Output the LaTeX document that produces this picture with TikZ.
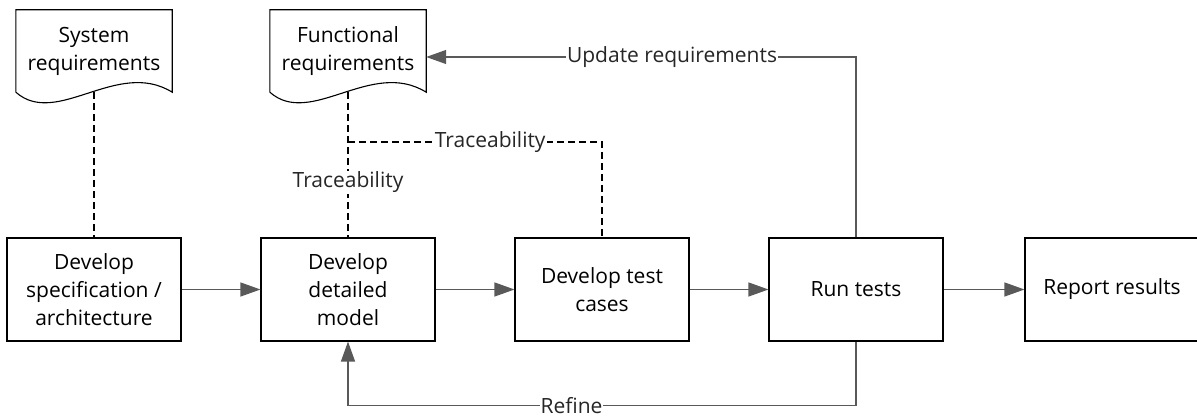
\documentclass[tikz,border=0pt]{standalone}
\usepackage{fontspec}
\setmainfont{Open Sans}
\usetikzlibrary{arrows.meta}
\newcommand\reqshape[1]{%
\draw [line width=1.1pt] (#1.south west) -- (#1.north west) -- (#1.north east) -- (#1.south east)
  .. controls +(-55pt,34pt) and +(41pt,-36pt) .. (#1.south west);}
\begin{document}
\begin{tikzpicture}[x=1pt,y=1pt,font=\fontsize{21}{28}\selectfont,
  box/.style={draw,line width=1.1pt,minimum width=174pt,minimum height=103pt,align=center},
  req/.style={minimum width=156pt,minimum height=82pt,align=center},
  flow/.style={draw=black!65,line width=1.2pt,-{Triangle[length=20pt,width=14pt]}},
  trace/.style={line width=1.1pt,dash pattern=on 7pt off 4pt},
  tag/.style={fill=white,inner sep=1pt,text=black!85}]
\useasboundingbox (0,0) rectangle (1197,419);
\node [box] (spec) at (94,129.5) {Develop\\specification /\\architecture};
\node [box] (model) at (348,129.5) {Develop\\detailed\\model};
\node [box] (cases) at (602,129.5) {Develop test\\cases};
\node [box] (runtests) at (856,129.5) {Run tests};
\node [box] (report) at (1112,129.5) {Report results};
\node [req] (sysreq) at (94,368) {System\\requirements};
\node [req] (funcreq) at (348,368) {Functional\\requirements};
\reqshape{sysreq}
\reqshape{funcreq}
\coordinate (split) at (348,277);
\draw [trace] (sysreq.south) -- (spec.north);
\draw [trace] (funcreq.south) -- node [tag,pos=.62] {Traceability} (model.north);
\draw [trace] (split) -| node [tag,pos=.28] {Traceability} (cases.north);
\draw [flow] (spec) -- (model);
\draw [flow] (model) -- (cases);
\draw [flow] (cases) -- (runtests);
\draw [flow] (runtests) -- (report);
\draw [flow] (runtests.north) |- node [tag,pos=.714] {Update requirements} ([yshift=-6pt]funcreq.east);
\draw [flow] (runtests.south) -- ++(0,-64) -| node [tag,pos=.28] {Refine} (model.south);
\end{tikzpicture}
\end{document}
